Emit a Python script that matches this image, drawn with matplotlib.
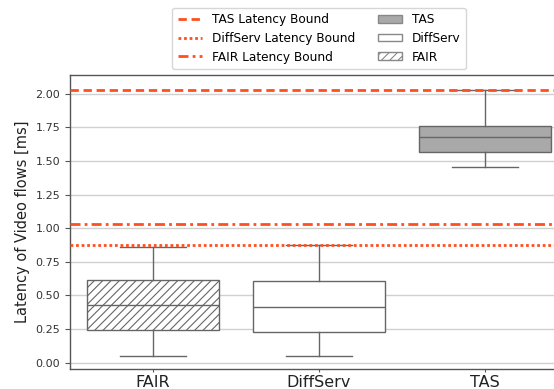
import matplotlib
matplotlib.use("Agg")
import matplotlib.pyplot as plt
from matplotlib.lines import Line2D
from matplotlib.patches import Patch

# Latency summary per scheduling scheme (ms)
schemes = ["FAIR", "DiffServ", "TAS"]
whisker_low = [0.05, 0.05, 1.455]
q1 = [0.245, 0.228, 1.565]
median = [0.43, 0.414, 1.677]
q3 = [0.612, 0.606, 1.762]
whisker_high = [0.862, 0.874, 2.03]

# Latency bounds (ms)
tas_bound = 2.03
diffserv_bound = 0.872
fair_bound = 1.03

box_faces = ["white", "white", "#a9a9a9"]
box_hatches = ["////", "", ""]
line_gray = "#666666"
bound_color = "#ff4f1f"
bound_lw = 2.0
dash_tas = (0, (3.0, 1.7))
dash_diffserv = (0, (1.0, 1.0))
dash_fair = (0, (3.6, 1.5, 1.0, 1.5))

plt.rcParams["hatch.color"] = "#8a8a8a"
plt.rcParams["hatch.linewidth"] = 0.8

fig = plt.figure(figsize=(5.54, 3.89), dpi=100)
ax = fig.add_axes([70 / 554, 1 - 369 / 389, 498 / 554, 294 / 389])

stats = []
for name, lo, a, m, b, hi in zip(schemes, whisker_low, q1, median, q3, whisker_high):
    stats.append(dict(label=name, whislo=lo, q1=a, med=m, q3=b, whishi=hi, fliers=[]))

bp = ax.bxp(stats, positions=range(len(schemes)), widths=0.8, patch_artist=True,
            showfliers=False,
            boxprops=dict(edgecolor=line_gray, linewidth=1.0),
            whiskerprops=dict(color=line_gray, linewidth=1.0),
            capprops=dict(color=line_gray, linewidth=1.0),
            medianprops=dict(color=line_gray, linewidth=1.0))
for patch, fc, h in zip(bp["boxes"], box_faces, box_hatches):
    patch.set_facecolor(fc)
    patch.set_hatch(h)

ax.axhline(tas_bound, color=bound_color, ls=dash_tas, lw=bound_lw, zorder=3)
ax.axhline(diffserv_bound, color=bound_color, ls=dash_diffserv, lw=bound_lw, zorder=3)
ax.axhline(fair_bound, color=bound_color, ls=dash_fair, lw=bound_lw, zorder=3)

ax.set_xlim(-0.5, 2.5)
ax.set_ylim(-0.047, 2.14)
ax.set_yticks([0, 0.25, 0.5, 0.75, 1.0, 1.25, 1.5, 1.75, 2.0])
ax.set_yticklabels([f"{v:.2f}" for v in ax.get_yticks()])
ax.set_xticks(range(len(schemes)))
ax.set_xticklabels(schemes, fontsize=11.5, color="#222222")
ax.tick_params(axis="y", labelsize=8, colors="#333333", length=3.5, color="#555555")
ax.tick_params(axis="x", length=2.5, pad=1.5, color="#555555")
ax.set_ylabel("Latency of Video flows [ms]", fontsize=10.5, color="#222222")
ax.yaxis.grid(True, color="#d0d0d0", lw=1.0)
ax.set_axisbelow(True)
for s in ax.spines.values():
    s.set_color("#555555")
    s.set_linewidth(1.0)

handles = [
    Line2D([], [], color=bound_color, ls=dash_tas, lw=bound_lw, label="TAS Latency Bound"),
    Line2D([], [], color=bound_color, ls=dash_diffserv, lw=bound_lw, label="DiffServ Latency Bound"),
    Line2D([], [], color=bound_color, ls=dash_fair, lw=bound_lw, label="FAIR Latency Bound"),
    Patch(facecolor="#a9a9a9", edgecolor="#888888", label="TAS"),
    Patch(facecolor="white", edgecolor="#888888", label="DiffServ"),
    Patch(facecolor="white", edgecolor="#888888", hatch="////", label="FAIR"),
]
ax.legend(handles=handles, ncol=2, loc="lower center", bbox_to_anchor=(0.5, 1.0),
          fontsize=8.7, frameon=True, edgecolor="#cccccc", handlelength=2.0,
          handleheight=0.6, columnspacing=1.9, labelspacing=0.47, borderpad=0.45)

fig.savefig("out.png", dpi=100)
